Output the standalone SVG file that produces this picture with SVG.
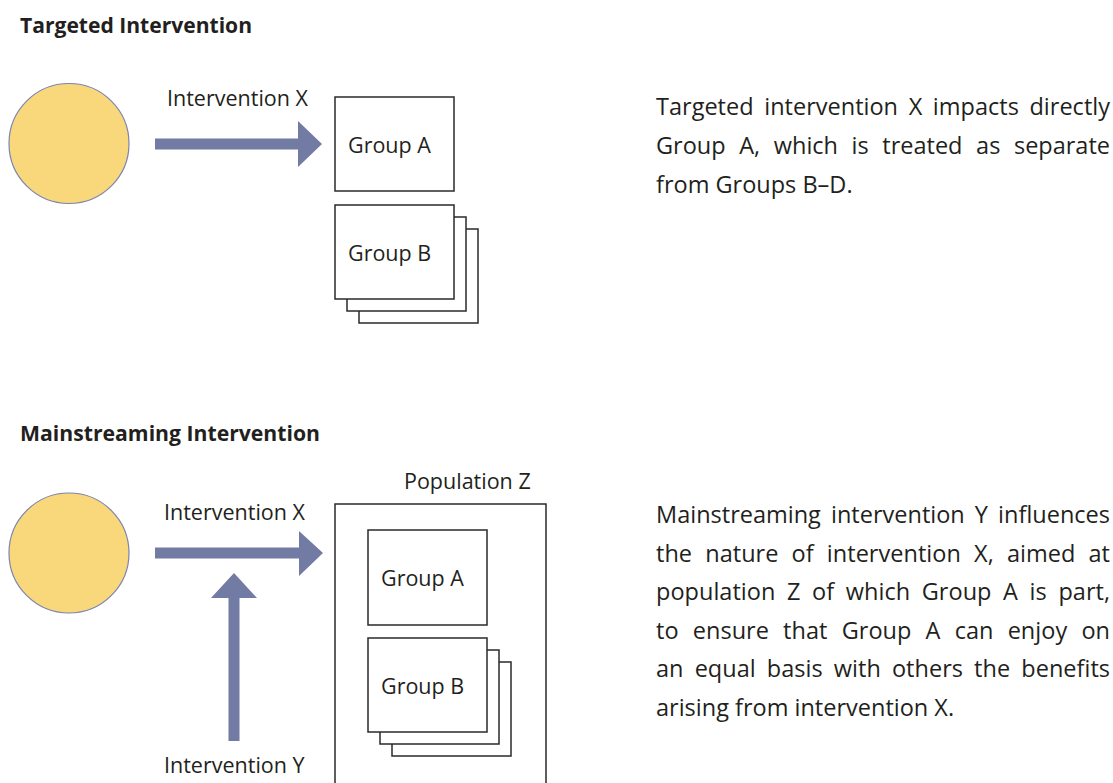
<svg xmlns="http://www.w3.org/2000/svg" width="1113" height="783" viewBox="0 0 1113 783">
  <style>
    text { font-family: "Open Sans", "Noto Sans", "Liberation Sans", sans-serif; fill: #231f20; }
    .title { font-weight: bold; font-size: 21.5px; }
    .label { font-size: 21.5px; }
    .body { font-size: 23.5px; }
    .source { fill: #f9d87b; stroke: #7c84ad; stroke-width: 1.2; }
    .box { fill: #ffffff; stroke: #2b2829; stroke-width: 1.5; }
    .arrow { fill: #717ba3; stroke: none; }
  </style>

  <rect x="0" y="0" width="1113" height="783" fill="#ffffff"/>

  <!-- Section 1: targeted intervention -->
  <g id="title-targeted">
    <text class="title" x="20" y="33" textLength="232" lengthAdjust="spacingAndGlyphs">Targeted Intervention</text>
  </g>

  <g id="source-1">
    <circle class="source" cx="69" cy="143.5" r="60"/>
  </g>

  <g id="group-a-1">
    <rect class="box" x="335" y="97" width="119" height="94"/>
    <text class="label" x="348" y="153">Group A</text>
  </g>

  <g id="group-b-1">
    <rect class="box" x="359" y="229" width="119" height="94"/>
    <rect class="box" x="347" y="217" width="119" height="94"/>
    <rect class="box" x="335" y="205" width="119" height="94"/>
    <text class="label" x="348" y="261">Group B</text>
  </g>

  <g id="note-targeted">
    <text class="body" x="656" y="115" textLength="454" lengthAdjust="spacing" style="word-spacing:4.5px">Targeted intervention X impacts directly</text>
    <text class="body" x="656" y="154" textLength="454" lengthAdjust="spacing" style="word-spacing:7.5px">Group A, which is treated as separate</text>
    <text class="body" x="656" y="193">from Groups B–D.</text>
  </g>

  <!-- Section 2: mainstreaming intervention -->
  <g id="title-mainstreaming">
    <text class="title" x="20" y="441" textLength="300" lengthAdjust="spacingAndGlyphs">Mainstreaming Intervention</text>
  </g>

  <g id="source-2">
    <circle class="source" cx="69" cy="553" r="60"/>
  </g>

  <g id="population-z">
    <rect class="box" x="335" y="504" width="211" height="300"/>
    <text class="label" x="404" y="489">Population Z</text>
  </g>

  <g id="group-a-2">
    <rect class="box" x="368" y="530" width="119" height="95"/>
    <text class="label" x="381" y="586">Group A</text>
  </g>

  <g id="group-b-2">
    <rect class="box" x="392" y="662" width="119" height="94"/>
    <rect class="box" x="380" y="650" width="119" height="94"/>
    <rect class="box" x="368" y="638" width="119" height="94"/>
    <text class="label" x="381" y="694">Group B</text>
  </g>

  <g id="note-mainstreaming">
    <text class="body" x="656" y="523" textLength="454" lengthAdjust="spacing" style="word-spacing:4px">Mainstreaming intervention Y influences</text>
    <text class="body" x="656" y="561.5" textLength="454" lengthAdjust="spacing" style="word-spacing:7px">the nature of intervention X, aimed at</text>
    <text class="body" x="656" y="600" textLength="454" lengthAdjust="spacing" style="word-spacing:5.5px">population Z of which Group A is part,</text>
    <text class="body" x="656" y="638.5" textLength="454" lengthAdjust="spacing" style="word-spacing:8px">to ensure that Group A can enjoy on</text>
    <text class="body" x="656" y="677" textLength="454" lengthAdjust="spacing" style="word-spacing:5px">an equal basis with others the benefits</text>
    <text class="body" x="656" y="715.5">arising from intervention X.</text>
  </g>

  <!-- Connectors: block arrows with their labels -->
  <g id="connectors">
    <g id="arrow-x-1">
      <polygon class="arrow" points="155,138.5 298,138.5 298,121 322,144 298,167 298,149.5 155,149.5"/>
      <text class="label" x="167" y="106">Intervention X</text>
    </g>
    <g id="arrow-x-2">
      <polygon class="arrow" points="155,547.5 299,547.5 299,531 323,553 299,576 299,558.5 155,558.5"/>
      <text class="label" x="164" y="520">Intervention X</text>
    </g>
    <g id="arrow-y">
      <polygon class="arrow" points="228.5,741 228.5,598 211,598 234,573 257,598 239.5,598 239.5,741"/>
      <text class="label" x="164" y="773">Intervention Y</text>
    </g>
  </g>
</svg>
